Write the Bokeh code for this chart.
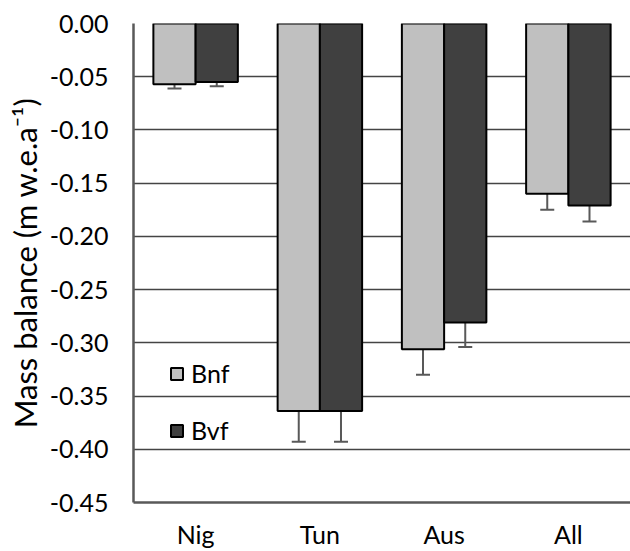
from bokeh.plotting import figure
from bokeh.models import (ColumnDataSource, FactorRange, Range1d, FixedTicker,
                          NumeralTickFormatter, Whisker, TeeHead, Legend, LegendItem)
from bokeh.transform import dodge
from bokeh.embed import file_html
from bokeh.resources import INLINE

# ---- data ----
categories = ["Nig", "Tun", "Aus", "All"]
bnf = [-0.057, -0.364, -0.306, -0.160]
bnf_err = [0.004, 0.029, 0.024, 0.015]
bvf = [-0.055, -0.364, -0.281, -0.171]
bvf_err = [0.004, 0.029, 0.023, 0.015]
y_ticks = [0.0, -0.05, -0.10, -0.15, -0.20, -0.25, -0.30, -0.35, -0.40, -0.45]
series_names = ["Bnf", "Bvf"]
y_title = "Mass balance (m w.e.a\u207b\u00b9)"

FONT = "Lato"

src = ColumnDataSource(dict(
    cat=categories,
    bnf=bnf, bvf=bvf,
    bnf_lo=[v - e for v, e in zip(bnf, bnf_err)],
    bnf_hi=[v + e for v, e in zip(bnf, bnf_err)],
    bvf_lo=[v - e for v, e in zip(bvf, bvf_err)],
    bvf_hi=list(bvf),
))

p = figure(width=630, height=551, x_range=FactorRange(*categories, range_padding=0),
           y_range=Range1d(-0.45, 0.0), output_backend="svg", toolbar_location=None,
           min_border_left=133, min_border_right=0, min_border_top=23, min_border_bottom=48)
p.x_range.factor_padding = 0
p.outline_line_color = None
p.background_fill_color = "white"
p.border_fill_color = "white"

off = 0.17
bw = 0.34
r1 = p.vbar(x=dodge("cat", -off, range=p.x_range), top=0, bottom="bnf", width=bw, source=src,
            fill_color="#c0c0c0", line_color="#000000", line_width=2)
r2 = p.vbar(x=dodge("cat", off, range=p.x_range), top=0, bottom="bvf", width=bw, source=src,
            fill_color="#404040", line_color="#000000", line_width=2)

ecol = "#595959"
w1 = Whisker(base=dodge("cat", -off, range=p.x_range), upper="bnf_hi", lower="bnf_lo", source=src,
             line_color=ecol, line_width=2,
             upper_head=TeeHead(size=14, line_color=ecol, line_width=2),
             lower_head=TeeHead(size=14, line_color=ecol, line_width=2))
w2 = Whisker(base=dodge("cat", off, range=p.x_range), upper="bvf_hi", lower="bvf_lo", source=src,
             line_color=ecol, line_width=2, upper_head=None,
             lower_head=TeeHead(size=14, line_color=ecol, line_width=2))
p.add_layout(w1)
p.add_layout(w2)

# axes
p.yaxis.ticker = FixedTicker(ticks=y_ticks)
p.yaxis.formatter = NumeralTickFormatter(format="0.00")
p.yaxis.axis_label = y_title
p.yaxis.axis_label_text_font = FONT
p.yaxis.axis_label_text_font_size = "31px"
p.yaxis.axis_label_text_font_style = "normal"
p.yaxis.axis_label_text_color = "#000000"
p.yaxis.axis_label_standoff = 3
for ax in (p.xaxis, p.yaxis):
    ax.major_label_text_font = FONT
    ax.major_label_text_font_size = "25px"
    ax.major_label_text_color = "#000000"
    ax.major_tick_line_color = None
    ax.major_tick_out = 0
    ax.major_tick_in = 0
    ax.minor_tick_line_color = None
    ax.minor_tick_out = 0
    ax.minor_tick_in = 0
    ax.axis_line_color = "#595959"
    ax.axis_line_width = 2.5
p.yaxis.major_label_standoff = 25
p.xaxis.major_label_standoff = 16

p.xgrid.grid_line_color = None
p.ygrid.ticker = FixedTicker(ticks=y_ticks)
p.ygrid.grid_line_color = "#444444"
p.ygrid.grid_line_width = 1.3

legend = Legend(items=[LegendItem(label=series_names[0], renderers=[r1]),
                       LegendItem(label=series_names[1], renderers=[r2])],
                location=(36, 57), padding=0, margin=0, spacing=27,
                glyph_width=15, glyph_height=15, label_standoff=7, label_height=29,
                background_fill_alpha=0, border_line_color=None,
                label_text_font=FONT, label_text_font_size="25px", label_text_color="#000000")
p.add_layout(legend)

open("out.html", "w").write(file_html(p, INLINE))
